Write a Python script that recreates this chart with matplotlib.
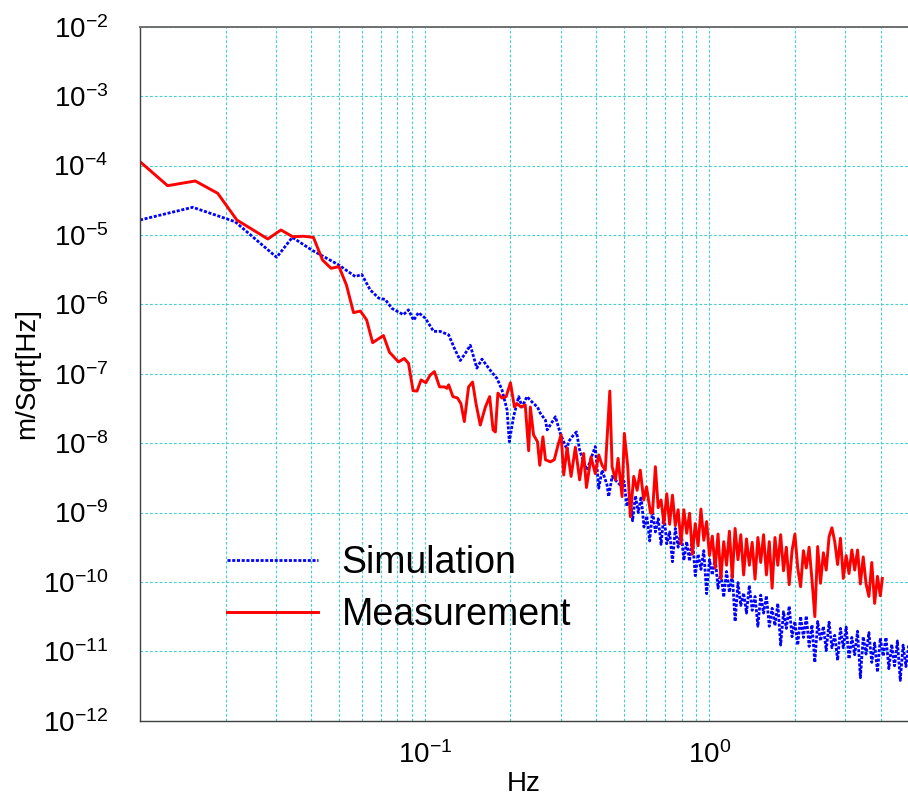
import numpy as np
import matplotlib
matplotlib.use("Agg")
import matplotlib.pyplot as plt
import matplotlib.ticker as mticker

plt.rcParams['font.family'] = ['Liberation Sans', 'DejaVu Sans']
plt.rcParams['mathtext.fontset'] = 'custom'
plt.rcParams['mathtext.rm'] = 'Liberation Sans'
plt.rcParams['mathtext.it'] = 'Liberation Sans:italic'
plt.rcParams['mathtext.bf'] = 'Liberation Sans:bold'
plt.rcParams['mathtext.default'] = 'regular'

# ---- data: log10(frequency / Hz), log10(amplitude / m/Sqrt[Hz]) ----
sim_log_f = [
    -2.000, -1.815, -1.666, -1.520, -1.465, -1.396, -1.303, -1.244, -1.221, -1.192,
    -1.162, -1.139, -1.115, -1.075, -1.057, -1.039, -1.022, -0.998, -0.969, -0.946,
    -0.916, -0.893, -0.875, -0.858, -0.840, -0.817, -0.799, -0.770, -0.746, -0.729,
    -0.711, -0.703, -0.688, -0.670, -0.658, -0.641, -0.618, -0.604, -0.594, -0.576,
    -0.570, -0.541, -0.524, -0.500, -0.495, -0.477, -0.467, -0.456, -0.442, -0.430,
    -0.416, -0.401, -0.389, -0.377, -0.360, -0.354, -0.342, -0.324, -0.307,
    -0.30, -0.29, -0.28, -0.27, -0.26, -0.25, -0.24, -0.23, -0.22, -0.21,
    -0.20, -0.19, -0.18, -0.17, -0.16, -0.15, -0.14, -0.13, -0.12, -0.11,
    -0.10, -0.09, -0.08, -0.07, -0.06, -0.05, -0.04, -0.03, -0.02, -0.01,
    0.00, 0.01, 0.02, 0.03, 0.04, 0.05, 0.06, 0.07, 0.08, 0.09,
    0.10, 0.11, 0.12, 0.13, 0.14, 0.15, 0.16, 0.17, 0.18, 0.19,
    0.20, 0.21, 0.22, 0.23, 0.24, 0.25, 0.26, 0.27, 0.28, 0.29,
    0.30, 0.31, 0.32, 0.33, 0.34, 0.35, 0.36, 0.37, 0.38, 0.39,
    0.40, 0.41, 0.42, 0.43, 0.44, 0.45, 0.46, 0.47, 0.48, 0.49,
    0.50, 0.51, 0.52, 0.53, 0.54, 0.55, 0.56, 0.57, 0.58, 0.59,
    0.60, 0.61, 0.62, 0.63, 0.64, 0.65, 0.66, 0.67, 0.68, 0.69,
    0.70, 0.71,
]
sim_log_amp = [
    -4.785, -4.602, -4.810, -5.323, -5.035, -5.220, -5.430, -5.600, -5.570, -5.790,
    -5.910, -5.930, -6.060, -6.150, -6.080, -6.230, -6.120, -6.200, -6.390, -6.390,
    -6.440, -6.660, -6.810, -6.710, -6.590, -6.920, -6.790, -6.950, -7.070, -7.230,
    -7.520, -7.980, -7.620, -7.330, -7.480, -7.330, -7.430, -7.480, -7.570, -7.670,
    -7.810, -7.620, -7.860, -8.100, -7.980, -7.880, -7.840, -8.100, -8.270, -8.390,
    -8.220, -8.050, -8.650, -8.390, -8.600, -8.770, -8.480, -8.560, -8.630,
    -8.55, -8.91, -8.75, -9.12, -8.76, -9.00, -8.77, -9.21, -9.05, -9.41,
    -8.97, -9.28, -9.09, -9.46, -9.02, -9.45, -9.28, -9.71, -9.23, -9.50,
    -9.25, -9.69, -9.42, -9.70, -9.35, -9.91, -9.60, -9.82, -9.55, -10.17,
    -9.68, -9.90, -9.65, -10.09, -9.86, -10.22, -9.85, -10.15, -9.88, -10.57,
    -10.01, -10.34, -10.16, -10.45, -10.05, -10.41, -10.21, -10.64, -10.19, -10.45,
    -10.20, -10.64, -10.38, -10.63, -10.31, -10.91, -10.43, -10.67, -10.35, -10.79,
    -10.57, -10.91, -10.50, -10.80, -10.49, -10.93, -10.62, -11.16, -10.57, -10.85,
    -10.64, -10.99, -10.58, -10.95, -10.77, -11.13, -10.67, -10.95, -10.65, -11.11,
    -10.80, -11.05, -10.71, -11.38, -10.79, -11.04, -10.73, -11.16, -10.88, -11.30,
    -10.81, -11.07, -10.80, -11.25, -10.90, -11.21, -10.85, -11.42, -10.91, -11.22,
    -10.91, -11.22,
]

meas_log_f = [
    -2.000, -1.903, -1.806, -1.727, -1.660, -1.551, -1.505, -1.464, -1.426, -1.391,
    -1.359, -1.329, -1.301, -1.275, -1.250, -1.226, -1.204, -1.183, -1.145, -1.124,
    -1.092, -1.072, -1.057, -1.041, -1.027, -1.013, -0.996, -0.981, -0.966, -0.948,
    -0.931, -0.922, -0.916, -0.901, -0.885, -0.873, -0.861, -0.846, -0.832, -0.820,
    -0.805, -0.787, -0.772, -0.760, -0.752, -0.743, -0.729, -0.714, -0.699, -0.685,
    -0.676, -0.662, -0.647, -0.635, -0.629, -0.618, -0.604, -0.596, -0.585, -0.576,
    -0.559, -0.545, -0.530, -0.521, -0.512, -0.500, -0.486, -0.471, -0.456, -0.442,
    -0.432, -0.416, -0.401, -0.389, -0.377, -0.366, -0.350, -0.342, -0.330, -0.321,
    -0.307, -0.299, -0.287, -0.278, -0.266, -0.254, -0.243, -0.231, -0.221, -0.207,
    -0.20, -0.19, -0.18, -0.17, -0.16, -0.15, -0.14, -0.13, -0.12, -0.11,
    -0.10, -0.09, -0.08, -0.07, -0.06, -0.05, -0.04, -0.03, -0.02, -0.01,
    0.00, 0.01, 0.02, 0.03, 0.04, 0.05, 0.06, 0.07, 0.08, 0.09,
    0.10, 0.11, 0.12, 0.13, 0.14, 0.15, 0.16, 0.17, 0.18, 0.19,
    0.20, 0.21, 0.22, 0.23, 0.24, 0.25, 0.26, 0.27, 0.28, 0.29,
    0.30, 0.31, 0.32, 0.33, 0.34, 0.35, 0.36, 0.37, 0.38, 0.39,
    0.40, 0.41, 0.42, 0.43, 0.44, 0.45, 0.46, 0.47, 0.48, 0.49,
    0.50, 0.51, 0.52, 0.53, 0.54, 0.55, 0.56, 0.57, 0.58, 0.59,
    0.60, 0.607,
]
meas_log_amp = [
    -3.945, -4.291, -4.223, -4.401, -4.785, -5.059, -4.929, -5.026, -5.020, -5.035,
    -5.362, -5.481, -5.458, -5.722, -6.121, -6.097, -6.226, -6.553, -6.450, -6.690,
    -6.830, -6.780, -6.850, -7.245, -7.250, -7.090, -7.130, -7.020, -6.970, -7.190,
    -7.190, -7.210, -7.160, -7.330, -7.350, -7.430, -7.690, -7.190, -7.120, -7.430,
    -7.740, -7.480, -7.330, -7.810, -7.840, -7.280, -7.350, -7.330, -7.130, -7.480,
    -7.430, -7.480, -7.450, -8.110, -7.480, -7.880, -7.980, -8.320, -7.910, -8.240,
    -8.270, -8.240, -8.000, -7.880, -8.460, -8.070, -8.480, -8.060, -8.530, -8.150,
    -8.640, -8.200, -8.440, -8.170, -8.320, -8.390, -7.250, -8.340, -8.530, -8.220,
    -8.770, -7.860, -8.340, -9.060, -8.480, -8.680, -8.390, -8.820, -8.630, -9.010,
    -9.00, -8.34, -8.93, -8.82, -9.16, -8.73, -9.17, -8.75, -9.19, -8.96,
    -9.45, -8.96, -9.30, -9.01, -9.60, -9.16, -9.48, -8.95, -9.40, -9.13,
    -9.62, -9.34, -9.80, -9.31, -9.95, -9.42, -9.76, -9.27, -9.94, -9.23,
    -9.68, -9.32, -9.90, -9.38, -9.76, -9.43, -9.96, -9.36, -9.72, -9.32,
    -9.90, -9.42, -10.09, -9.36, -9.76, -9.32, -9.84, -9.50, -10.04, -9.55,
    -9.31, -9.80, -10.07, -9.55, -9.80, -9.50, -9.97, -10.50, -9.49, -10.02,
    -9.58, -9.83, -9.35, -9.22, -9.42, -9.75, -9.37, -9.95, -9.62, -9.88,
    -9.54, -9.83, -9.54, -10.03, -9.64, -10.03, -10.21, -9.72, -10.31, -9.92,
    -10.20, -9.95,
]

series_labels = ["Simulation", "Measurement"]
x_limits = (0.01, 4.98)
y_limits = (1e-12, 1e-2)
x_ticks = [0.1, 1.0]

sim_f = 10.0 ** np.array(sim_log_f)
sim_a = 10.0 ** np.array(sim_log_amp)
meas_f = 10.0 ** np.array(meas_log_f)
meas_a = 10.0 ** np.array(meas_log_amp)

W, H = 908, 799
fig = plt.figure(figsize=(W / 100, H / 100), dpi=100)
fig.patch.set_facecolor('white')
left, right, top, bottom = 140, 908, 26.7, 720.7
ax = fig.add_axes([left / W, (H - bottom) / H, (right - left) / W, (bottom - top) / H])

ax.plot(sim_f, sim_a, color='#0000ff', lw=2.0, linestyle=(0, (1.1, 0.6)), label=series_labels[0])
ax.plot(meas_f, meas_a, color='#ff0000', lw=2.1, linestyle='-', label=series_labels[1])

ax.set_xscale('log')
ax.set_yscale('log')
ax.set_xlim(*x_limits)
ax.set_ylim(*y_limits)

ax.set_xticks(x_ticks)
ax.xaxis.set_minor_locator(mticker.LogLocator(base=10, subs=np.arange(2, 10), numticks=40))
ax.xaxis.set_minor_formatter(mticker.NullFormatter())
ax.yaxis.set_major_locator(mticker.LogLocator(base=10, numticks=20))
ax.yaxis.set_minor_locator(mticker.NullLocator())

grid_col = '#48cfcf'
ax.grid(True, which='major', axis='both', color=grid_col, lw=0.8, linestyle=(0, (2.5, 1.8)))
ax.grid(True, which='minor', axis='x', color=grid_col, lw=0.8, linestyle=(0, (2.5, 1.8)))
ax.set_axisbelow(True)

ax.tick_params(which='both', length=0)
ax.tick_params(which='minor', labelbottom=False, labelleft=False)
ax.tick_params(axis='y', labelsize=20, pad=23)
ax.tick_params(axis='x', labelsize=20, pad=15)

for s in ['left', 'bottom']:
    ax.spines[s].set_color('#404040')
    ax.spines[s].set_linewidth(1.0)
ax.spines['top'].set_color('#707070')
ax.spines['top'].set_linewidth(1.4)
ax.spines['right'].set_visible(False)

ax.set_ylabel('m/Sqrt[Hz]', fontsize=20)
ax.yaxis.set_label_coords((40 - left) / (right - left), 0.5)
ax.set_xlabel('Hz', fontsize=20)
ax.xaxis.set_label_coords(0.5, (bottom - 771) / (bottom - top))

leg = ax.legend(loc='upper left', bbox_to_anchor=(227 / W, (H - 545) / H),
                bbox_transform=fig.transFigure, frameon=False, fontsize=27,
                handlelength=2.43, handletextpad=0.63, labelspacing=0.43,
                borderpad=0, borderaxespad=0)

fig.savefig('out.png', dpi=100, facecolor='white')
